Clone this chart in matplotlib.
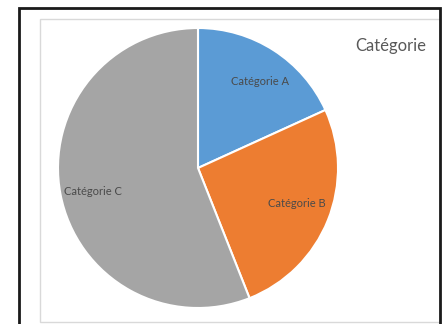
import matplotlib
matplotlib.use("Agg")
import matplotlib.pyplot as plt
from matplotlib.patches import Rectangle
import numpy as np

categories = ["Catégorie A", "Catégorie B", "Catégorie C"]
values = [18.2, 25.8, 56.0]
colors = ["#5B9BD5", "#ED7D31", "#A5A5A5"]
title = "Catégorie"

W, H = 446, 324
fig = plt.figure(figsize=(W / 100, H / 100), dpi=100)
fig.patch.set_facecolor("white")

def fx(px):
    return px / W

def fy(py):
    return 1 - py / H

# inner light gray chart border
fig.patches.append(Rectangle((fx(40), fy(322)), fx(440) - fx(40), fy(19) - fy(322),
                             transform=fig.transFigure, fill=False,
                             edgecolor="#D9D9D9", linewidth=1.0))
# outer black frame
fig.patches.append(Rectangle((fx(19), fy(340)), fx(440) - fx(19), fy(8) - fy(340),
                             transform=fig.transFigure, fill=False,
                             edgecolor="#1a1a1a", linewidth=2.0, clip_on=False))

cx, cy, r = 198, 168, 140
ax = fig.add_axes([fx(cx - r), fy(cy + r), 2 * r / W, 2 * r / H])
wedges, _ = ax.pie(values, colors=colors, startangle=90, counterclock=False,
                   radius=1.0, wedgeprops=dict(edgecolor="white", linewidth=1.5))
ax.set_xlim(-1, 1)
ax.set_ylim(-1, 1)
ax.set_aspect("equal")
ax.axis("off")

dists = [0.76, 0.75, 0.77]
offsets = [-3, 2, 2]
for w, lab, d, o in zip(wedges, categories, dists, offsets):
    ang = np.deg2rad((w.theta1 + w.theta2) / 2 + o)
    ax.text(d * np.cos(ang), d * np.sin(ang), lab, ha="center", va="center",
            fontsize=8, color="#4a4a4a", family=["Lato", "DejaVu Sans"])

fig.text(fx(391), fy(46), title, ha="center", va="center", fontsize=12,
         color="#595959", family=["Lato", "DejaVu Sans"])

fig.savefig("out.png", dpi=100)
